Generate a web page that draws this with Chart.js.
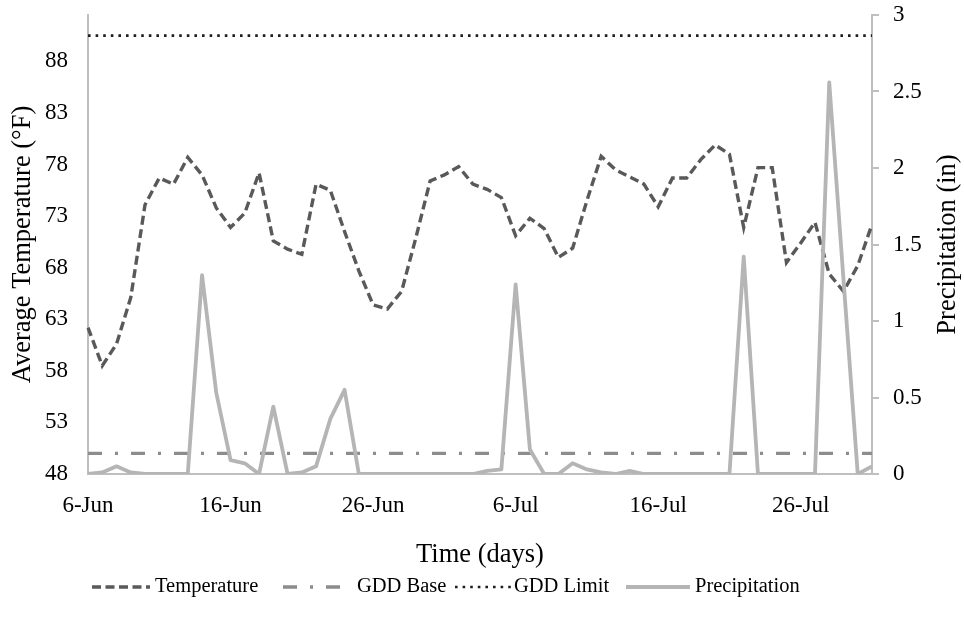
<!DOCTYPE html>
<html>
<head>
<meta charset="utf-8">
<script src="https://cdn.jsdelivr.net/npm/chart.js@4/dist/chart.umd.min.js"></script>
<style>
html,body{margin:0;padding:0;background:#fff;}
#wrap{width:964px;height:631px;position:relative;}
canvas{display:block;}
</style>
</head>
<body>
<div id="wrap"><canvas id="c" width="964" height="631"></canvas></div>
<script>
// ---- data ----
const dates = [
  "6-Jun","7-Jun","8-Jun","9-Jun","10-Jun","11-Jun","12-Jun","13-Jun","14-Jun","15-Jun",
  "16-Jun","17-Jun","18-Jun","19-Jun","20-Jun","21-Jun","22-Jun","23-Jun","24-Jun","25-Jun",
  "26-Jun","27-Jun","28-Jun","29-Jun","30-Jun","1-Jul","2-Jul","3-Jul","4-Jul","5-Jul",
  "6-Jul","7-Jul","8-Jul","9-Jul","10-Jul","11-Jul","12-Jul","13-Jul","14-Jul","15-Jul",
  "16-Jul","17-Jul","18-Jul","19-Jul","20-Jul","21-Jul","22-Jul","23-Jul","24-Jul","25-Jul",
  "26-Jul","27-Jul","28-Jul","29-Jul","30-Jul","31-Jul"
];
const temperature = [
  62.2, 58.5, 60.6, 65.1, 74.1, 76.7, 76.1, 78.7, 77.0, 73.8,
  71.9, 73.3, 77.2, 70.6, 69.8, 69.3, 76.1, 75.5, 71.5, 67.7,
  64.4, 64.0, 65.7, 70.9, 76.4, 77.0, 77.8, 76.1, 75.6, 74.8,
  71.1, 72.8, 71.8, 69.0, 69.9, 74.5, 78.8, 77.5, 76.8, 76.1,
  73.9, 76.7, 76.7, 78.5, 79.9, 79.0, 71.9, 77.7, 77.7, 68.5,
  70.4, 72.4, 67.4, 65.7, 68.2, 72.2
];
const precipitation = [
  0, 0.01, 0.05, 0.01, 0, 0, 0, 0, 1.30, 0.53,
  0.09, 0.07, 0, 0.44, 0, 0.01, 0.05, 0.36, 0.55, 0,
  0, 0, 0, 0, 0, 0, 0, 0, 0.02, 0.03,
  1.24, 0.16, 0, 0, 0.07, 0.03, 0.01, 0, 0.02, 0,
  0, 0, 0, 0, 0, 0, 1.42, 0, 0, 0,
  0, 0, 2.56, 1.27, 0, 0.05
];
const gddBase = 50;
const gddLimit = 90.5;
const tempTicks = [48, 53, 58, 63, 68, 73, 78, 83, 88];
const precipTicks = [0, 0.5, 1, 1.5, 2, 2.5, 3];
const seriesNames = ["Temperature", "GDD Base", "GDD Limit", "Precipitation"];
const axisTitles = { x: "Time (days)", left: "Average Temperature (°F)", right: "Precipitation (in)" };

// ---- styles ----
const FONT = '"Liberation Serif", "Times New Roman", serif';

const datasets = [
  {
    label: seriesNames[3], data: precipitation, yAxisID: 'yP', order: 0,
    borderColor: '#b5b5b5', borderWidth: 3.8, pointRadius: 0, tension: 0, fill: false,
    borderJoinStyle: 'round'
  },
  {
    label: seriesNames[0], data: temperature, yAxisID: 'yT', order: 1,
    borderColor: '#595959', borderWidth: 3.4, borderDash: [9, 4.5], pointRadius: 0, tension: 0, fill: false
  },
  {
    label: seriesNames[1], data: [{x: dates[0], y: gddBase}, {x: dates[dates.length - 1], y: gddBase}], yAxisID: 'yT', order: 2,
    borderColor: '#8c8c8c', borderWidth: 3.4, borderDash: [14, 13, 3, 13], pointRadius: 0, tension: 0, fill: false
  },
  {
    label: seriesNames[2], data: [{x: dates[0], y: gddLimit}, {x: dates[dates.length - 1], y: gddLimit}], yAxisID: 'yT', order: 3,
    borderColor: '#1e1e1e', borderWidth: 2.6, borderDash: [2.6, 5], pointRadius: 0, tension: 0, fill: false
  }
];

const legendLayout = [
  { name: seriesNames[0], x0: 92, len: 58, tx: 155 },
  { name: seriesNames[1], x0: 283, len: 62, tx: 357 },
  { name: seriesNames[2], x0: 455, len: 57, tx: 514 },
  { name: seriesNames[3], x0: 626, len: 64, tx: 695 }
];

const extras = {
  id: 'extras',
  afterDraw(chart) {
    const ctx = chart.ctx;
    const area = chart.chartArea;
    // right axis title (reads bottom-to-top)
    ctx.save();
    ctx.font = '26.5px ' + FONT;
    ctx.fillStyle = '#000';
    ctx.textAlign = 'center';
    ctx.textBaseline = 'middle';
    ctx.translate(chart.scales.yP.right - 16, (area.top + area.bottom) / 2);
    ctx.rotate(-Math.PI / 2);
    ctx.fillText(axisTitles.right, 0, 0);
    ctx.restore();
    // legend
    const ly = 587;
    legendLayout.forEach(item => {
      const ds = chart.data.datasets.find(d => d.label === item.name);
      ctx.save();
      ctx.strokeStyle = ds.borderColor;
      ctx.lineWidth = ds.borderWidth;
      ctx.setLineDash(ds.borderDash || []);
      ctx.beginPath();
      ctx.moveTo(item.x0, ly);
      ctx.lineTo(item.x0 + item.len, ly);
      ctx.stroke();
      ctx.restore();
      ctx.save();
      ctx.font = '20.5px ' + FONT;
      ctx.fillStyle = '#000';
      ctx.textAlign = 'left';
      ctx.textBaseline = 'middle';
      ctx.fillText(item.name, item.tx, ly);
      ctx.restore();
    });
  }
};

new Chart(document.getElementById('c'), {
  type: 'line',
  data: { labels: dates, datasets: datasets },
  options: {
    responsive: false,
    animation: false,
    devicePixelRatio: 1,
    layout: { padding: { top: 15, bottom: 57, left: 0, right: 0 } },
    plugins: { legend: { display: false }, tooltip: { enabled: false } },
    scales: {
      x: {
        type: 'category',
        offset: false,
        grid: { display: false, drawTicks: false },
        border: { display: true, color: '#bfbfbf', width: 2 },
        ticks: {
          autoSkip: false, maxRotation: 0, minRotation: 0, padding: 18,
          color: '#000', font: { family: FONT, size: 23 },
          callback: (v, i) => (i % 10 === 0 ? dates[i] : null)
        },
        title: { display: true, text: axisTitles.x, color: '#000', font: { family: FONT, size: 26.5 }, padding: { top: 0, bottom: 3 } },
        afterFit: s => { s.height = 100; }
      },
      yT: {
        type: 'linear', position: 'left', min: 48, max: 92.5,
        afterBuildTicks: s => { s.ticks = tempTicks.map(v => ({ value: v })); },
        grid: { display: false, drawTicks: false },
        border: { display: true, color: '#bfbfbf', width: 2 },
        ticks: { padding: 20, color: '#000', font: { family: FONT, size: 23 } },
        title: { display: true, text: axisTitles.left, color: '#000', font: { family: FONT, size: 26.5 }, padding: { top: 7, bottom: 0 } },
        afterFit: s => { s.width = 88; s.paddingTop = 0; s.paddingBottom = 0; }
      },
      yP: {
        type: 'linear', position: 'right', min: 0, max: 3,
        afterBuildTicks: s => { s.ticks = precipTicks.map(v => ({ value: v })); },
        grid: { drawOnChartArea: false, drawTicks: true, tickLength: 7, color: '#bfbfbf', lineWidth: 2 },
        border: { display: true, color: '#bfbfbf', width: 2 },
        ticks: { padding: 14, color: '#000', font: { family: FONT, size: 23 }, callback: v => String(v) },
        afterFit: s => { s.width = 92; s.paddingTop = 0; s.paddingBottom = 0; }
      }
    }
  },
  plugins: [extras]
});
</script>
</body>
</html>
